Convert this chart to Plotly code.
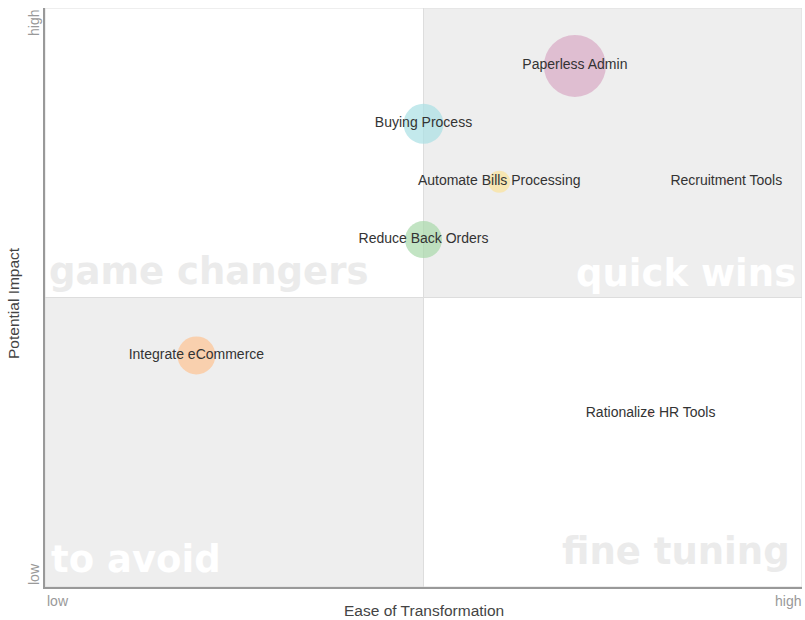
import plotly.graph_objects as go

names = ["Paperless Admin", "Buying Process", "Automate Bills Processing", "Recruitment Tools",
         "Reduce Back Orders", "Integrate eCommerce", "Rationalize HR Tools"]
ease = [7, 5, 6, 9, 5, 2, 8]
impact = [9, 8, 7, 7, 6, 4, 3]
size = [62, 40, 22, 4, 37, 38, 4]
colors = ["#D9A9C4", "#A9DFE4", "#FBE29A", "#F2A0A0", "#A8D8AA", "#FDC393", "#F2A0A0"]

quad_labels = ["game changers", "quick wins", "to avoid", "fine tuning"]
x_title = "Ease of Transformation"
y_title = "Potential Impact"
tick_low, tick_high = "low", "high"

fig = go.Figure()

# quadrant backgrounds
fig.add_shape(type="rect", x0=5, x1=10, y0=5, y1=10, fillcolor="#EEEEEE", line_width=0, layer="below")
fig.add_shape(type="rect", x0=0, x1=5, y0=0, y1=5, fillcolor="#EEEEEE", line_width=0, layer="below")
fig.add_shape(type="line", x0=5, x1=5, y0=0, y1=10, line=dict(color="#DDDDDD", width=1), layer="below")
fig.add_shape(type="line", x0=0, x1=10, y0=5, y1=5, line=dict(color="#DDDDDD", width=1), layer="below")
fig.add_shape(type="rect", x0=0, x1=10, y0=0, y1=10, line=dict(color="#DDDDDD", width=1), layer="below")

fig.add_trace(go.Scatter(
    x=ease, y=impact, mode="markers+text", text=names, textposition="middle center",
    marker=dict(size=size, color=colors, line_width=0, sizemode="diameter"),
    textfont=dict(family="Liberation Sans, Arial", size=14, color="#333333"),
    hoverinfo="text", showlegend=False, cliponaxis=False,
))

qfont = dict(family="DejaVu Sans", size=37, color="#EBEBEB")
qfont_w = dict(family="DejaVu Sans", size=37, color="#FFFFFF")
fig.add_annotation(x=0, y=5, xref="x", yref="y", text="<b>" + quad_labels[0] + "</b>", showarrow=False,
                   xanchor="left", yanchor="bottom", xshift=2, yshift=3, font=qfont)
fig.add_annotation(x=10, y=5, xref="x", yref="y", text="<b>" + quad_labels[1] + "</b>", showarrow=False,
                   xanchor="right", yanchor="bottom", xshift=-4, yshift=1, font=qfont_w)
fig.add_annotation(x=0, y=0, xref="x", yref="y", text="<b>" + quad_labels[2] + "</b>", showarrow=False,
                   xanchor="left", yanchor="bottom", xshift=4, yshift=4, font=qfont_w)
fig.add_annotation(x=10, y=0, xref="x", yref="y", text="<b>" + quad_labels[3] + "</b>", showarrow=False,
                   xanchor="right", yanchor="bottom", xshift=-10, yshift=12, font=qfont)

tfont = dict(family="Liberation Sans, Arial", size=14, color="#999999")
fig.add_annotation(x=0, y=0, xref="x", yref="y", text=tick_low, showarrow=False, xanchor="left", yanchor="top",
                   yshift=-4, font=tfont)
fig.add_annotation(x=10, y=0, xref="x", yref="y", text=tick_high, showarrow=False, xanchor="right", yanchor="top",
                   yshift=-4, xshift=1, font=tfont)
fig.add_annotation(x=0, y=0, xref="x", yref="y", text=tick_low, showarrow=False, xanchor="right", yanchor="bottom",
                   textangle=-90, xshift=-1, font=tfont)
fig.add_annotation(x=0, y=10, xref="x", yref="y", text=tick_high, showarrow=False, xanchor="right", yanchor="top",
                   textangle=-90, xshift=-1, font=tfont)

ttl = dict(family="Liberation Sans, Arial", size=15.5, color="#444444")
fig.add_annotation(x=0.5, y=0, xref="paper", yref="paper", text=x_title, showarrow=False,
                   xanchor="center", yanchor="top", yshift=-13, font=ttl)
fig.add_annotation(x=0, y=0.5, xref="paper", yref="paper", text=y_title, showarrow=False,
                   xanchor="right", yanchor="middle", xshift=-21, yshift=-6, textangle=-90, font=ttl)

fig.update_xaxes(range=[0, 10], showgrid=False, zeroline=False, showticklabels=False, ticks="",
                 showline=True, linecolor="#999999", linewidth=2, mirror=False, automargin=False)
fig.update_yaxes(range=[0, 10], showgrid=False, zeroline=False, showticklabels=False, ticks="",
                 showline=True, linecolor="#999999", linewidth=2, mirror=False, automargin=False)

fig.update_layout(width=805, height=620, margin=dict(l=45, r=3, t=8, b=33, autoexpand=False),
                  plot_bgcolor="white", paper_bgcolor="white")

fig.write_html("out.html", config={"displayModeBar": False},
               post_script="document.body.style.margin='0';document.body.style.overflow='hidden';")
